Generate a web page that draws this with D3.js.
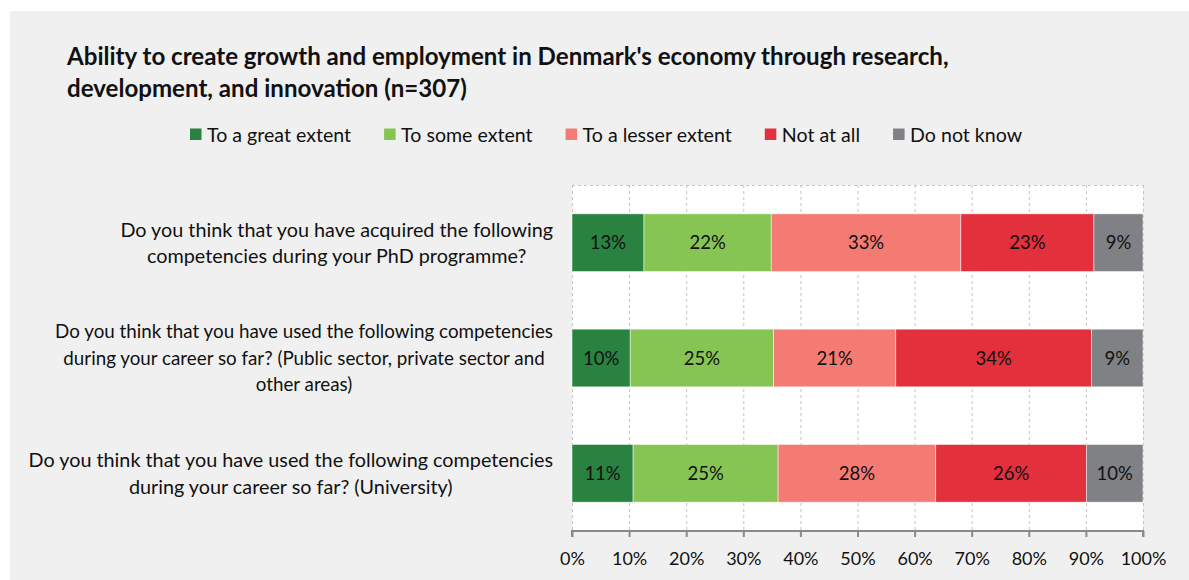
<!DOCTYPE html>
<html>
<head>
<meta charset="utf-8">
<script src="https://cdn.jsdelivr.net/npm/d3@7/dist/d3.min.js"></script>
<style>
  html, body { margin: 0; padding: 0; background: #ffffff; }
  svg { display: block; }
  text { font-family: Lato, "Open Sans", sans-serif; fill: #111; }
</style>
</head>
<body>
<div id="chart"></div>
<script>
// Survey answers (percent of respondents, n=307)
const questions = [
  ["Do you think that you have acquired the following", "competencies during your PhD programme?"],
  ["Do you think that you have used the following competencies", "during your career so far? (Public sector, private sector and", "other areas)"],
  ["Do you think that you have used the following competencies", "during your career so far? (University)"]
];
const answers = ["To a great extent", "To some extent", "To a lesser extent", "Not at all", "Do not know"];
const greatExtent  = [12.6, 10.2, 10.7];
const someExtent   = [22.3, 25.1, 25.4];
const lesserExtent = [33.2, 21.4, 27.6];
const notAtAll     = [23.3, 34.3, 26.4];
const doNotKnow    = [8.6, 9.0, 9.9];
const valueLabels = [
  ["13%", "22%", "33%", "23%", "9%"],
  ["10%", "25%", "21%", "34%", "9%"],
  ["11%", "25%", "28%", "26%", "10%"]
];
const tickValues = [0, 10, 20, 30, 40, 50, 60, 70, 80, 90, 100];
const colors = ["#2a8241", "#86c554", "#f37b73", "#e2303d", "#808185"];

const W = 1189, H = 580;
const margin = { left: 572, right: 46, top: 185, bottom: 49 };

const svg = d3.select("#chart").append("svg").attr("width", W).attr("height", H);

// panel background
svg.append("rect").attr("x", 10).attr("y", 11).attr("width", W - 10).attr("height", H - 11).attr("fill", "#f0f0f0");

// title
const title = svg.append("text").attr("x", 67).attr("font-weight", 700).attr("font-size", 24.1);
title.append("tspan").attr("x", 67).attr("y", 65).text("Ability to create growth and employment in Denmark's economy through research,");
title.append("tspan").attr("x", 67).attr("y", 97).text("development, and innovation (n=307)");

// build stacked table
const table = questions.map((q, i) => ({
  q: i,
  "To a great extent": greatExtent[i],
  "To some extent": someExtent[i],
  "To a lesser extent": lesserExtent[i],
  "Not at all": notAtAll[i],
  "Do not know": doNotKnow[i]
}));
const stacked = d3.stack().keys(answers)(table);

const x = d3.scaleLinear().domain([0, 100]).range([margin.left, W - margin.right]);
const y = d3.scaleBand().domain(d3.range(questions.length)).range([margin.top, H - margin.bottom]).paddingInner(0.5).paddingOuter(0.25);

// plot area
svg.append("rect")
  .attr("x", x(0)).attr("y", margin.top)
  .attr("width", x(100) - x(0)).attr("height", H - margin.bottom - margin.top)
  .attr("fill", "#ffffff");

// dashed grid
svg.append("g").selectAll("line").data(tickValues).join("line")
  .attr("x1", d => x(d) + 0.5).attr("x2", d => x(d) + 0.5)
  .attr("y1", margin.top).attr("y2", H - margin.bottom)
  .attr("stroke", "#c4c4c4").attr("stroke-dasharray", "3,3").attr("stroke-width", 1);
svg.append("line")
  .attr("x1", x(0)).attr("x2", x(100)).attr("y1", margin.top + 0.5).attr("y2", margin.top + 0.5)
  .attr("stroke", "#c4c4c4").attr("stroke-dasharray", "3,3");

// bars
const layers = svg.append("g").selectAll("g").data(stacked).join("g")
  .attr("fill", (d, i) => colors[i]);
layers.selectAll("rect").data(d => d).join("rect")
  .attr("x", d => x(d[0]))
  .attr("width", d => x(d[1]) - x(d[0]))
  .attr("y", d => y(d.data.q))
  .attr("height", y.bandwidth())
  .attr("stroke", "#ffffff").attr("stroke-opacity", 0.6).attr("stroke-width", 0.8);

// value labels
stacked.forEach((layer, li) => {
  svg.append("g").selectAll("text").data(layer).join("text")
    .attr("x", d => (x(d[0]) + x(d[1])) / 2)
    .attr("y", d => y(d.data.q) + y.bandwidth() / 2)
    .attr("dy", "0.36em")
    .attr("text-anchor", "middle")
    .attr("font-size", 18.5)
    .text(d => valueLabels[d.data.q][li]);
});

// x axis
const xAxis = d3.axisBottom(x).tickValues(tickValues).tickFormat(d => d + "%").tickSize(6).tickPadding(15);
const gx = svg.append("g").attr("transform", `translate(0,${H - margin.bottom})`).call(xAxis);
gx.select(".domain").attr("stroke", "#8a8a8a").attr("stroke-width", 2).attr("d", `M${x(0)},6V0H${x(100)}V6`);
gx.selectAll(".tick line").attr("stroke", "#8a8a8a").attr("stroke-width", 2);
gx.selectAll(".tick text").attr("font-size", 18).attr("font-family", "Lato, sans-serif").attr("fill", "#111");

// question labels: each block ends at the same right edge, lines centred inside it
const labelRight = 553;
const labelSizes = [19.8, 18.8, 19.8];
const qg = svg.append("g").selectAll("text").data(questions).join("text")
  .attr("text-anchor", "middle")
  .attr("font-size", (d, i) => labelSizes[i]);
qg.each(function (lines, i) {
  const cy = y(i) + y.bandwidth() / 2;
  const lh = 26.5;
  const t0 = cy - (lines.length - 1) * lh / 2;
  const sel = d3.select(this);
  const spans = sel.selectAll("tspan").data(lines).join("tspan")
    .attr("x", 0)
    .attr("y", (d, k) => t0 + k * lh)
    .attr("dy", "0.36em")
    .text(d => d);
  const maxW = d3.max(spans.nodes(), n => n.getComputedTextLength());
  spans.attr("x", labelRight - maxW / 2);
});

// legend
const legend = svg.append("g").attr("font-size", 19.6);
const items = legend.selectAll("g").data(answers).join("g");
items.append("rect").attr("width", 11.5).attr("height", 11.5).attr("y", 128.5).attr("fill", (d, i) => colors[i]);
items.append("text").attr("x", 17).attr("y", 134.5).attr("dy", "0.36em").text(d => d);
let cursor = 190;
items.each(function () {
  const g = d3.select(this);
  g.attr("transform", `translate(${cursor},0)`);
  const w = g.select("text").node().getComputedTextLength();
  cursor += 17 + w + 33;
});
</script>
</body>
</html>
